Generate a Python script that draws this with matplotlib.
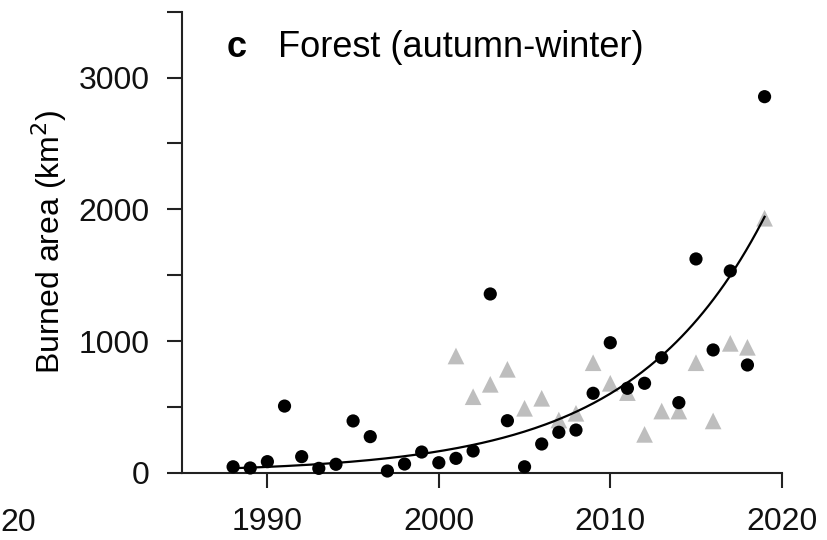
import numpy as np
import matplotlib
matplotlib.use('Agg')
import matplotlib.pyplot as plt

plt.rcParams['font.family'] = ['Liberation Sans', 'DejaVu Sans']

# 黑色圆点：森林过火面积（秋冬）
years_black = [1988, 1989, 1990, 1991, 1992, 1993, 1994, 1995, 1996, 1997,
               1998, 1999, 2000, 2001, 2002, 2003, 2004, 2005, 2006, 2007,
               2008, 2009, 2010, 2011, 2012, 2013, 2014, 2015, 2016, 2017,
               2018, 2019]
area_black = [45, 36, 84, 506, 122, 33, 64, 393, 274, 13,
              66, 157, 76, 109, 165, 1357, 395, 45, 218, 307,
              324, 603, 987, 641, 679, 873, 532, 1623, 932, 1532,
              818, 2855]

# 灰色三角：另一数据源
years_gray = [2001, 2002, 2003, 2004, 2005, 2006, 2007, 2008, 2009, 2010,
              2011, 2012, 2013, 2014, 2015, 2016, 2017, 2018, 2019]
area_gray = [886, 577, 671, 785, 489, 565, 400, 451, 835, 679,
             608, 291, 468, 468, 835, 393, 982, 952, 1932]

# 指数拟合曲线参数 y = a * exp(b * (t - t0))
fit_a = 34
fit_b = 0.1305
fit_t0 = 1988
fit_range = (1988, 2019)

fig = plt.figure(figsize=(8.28, 5.4), dpi=100)
ax = fig.add_axes([0.2194, 0.1246, 0.7247, 0.8537])

t = np.linspace(fit_range[0], fit_range[1], 200)
ax.scatter(years_gray, area_gray, marker='^', s=12**2, color='#bebebe',
           edgecolors='none', zorder=2, clip_on=False)
ax.scatter(years_black, area_black, marker='o', s=9.5**2, color='black',
           edgecolors='none', zorder=3, clip_on=False)
ax.plot(t, fit_a * np.exp(fit_b * (t - fit_t0)), color='black', lw=1.6, zorder=4)

ax.set_xlim(1985, 2020)
ax.set_ylim(0, 3500)
ax.set_xticks([1990, 2000, 2010, 2020])
ax.set_yticks(np.arange(0, 3501, 500))
ax.set_yticklabels(['0', '', '1000', '', '2000', '', '3000', ''])
ax.tick_params(axis='both', direction='out', length=11, width=1.5,
               labelsize=23, color='#222222', labelcolor='#111111')
ax.tick_params(axis='y', pad=12)
ax.tick_params(axis='x', pad=14)

for side in ['top', 'right']:
    ax.spines[side].set_visible(False)
for side in ['left', 'bottom']:
    ax.spines[side].set_linewidth(1.5)
    ax.spines[side].set_color('#222222')

ax.set_ylabel('Burned area (km$^2$)', fontsize=23, labelpad=7)

ax.text(0.075, 0.902, 'c', transform=ax.transAxes, fontsize=26,
        fontweight='bold', va='baseline')
ax.text(0.16, 0.902, 'Forest (autumn-winter)', transform=ax.transAxes,
        fontsize=26, va='baseline')

# 左侧相邻面板残留的刻度标签（仅可见末两位）
fig.text(0, 1 - 523 / 540, '20', fontsize=23, ha='left',
         va='center', color='#111111')

fig.savefig('out.png', dpi=100)
